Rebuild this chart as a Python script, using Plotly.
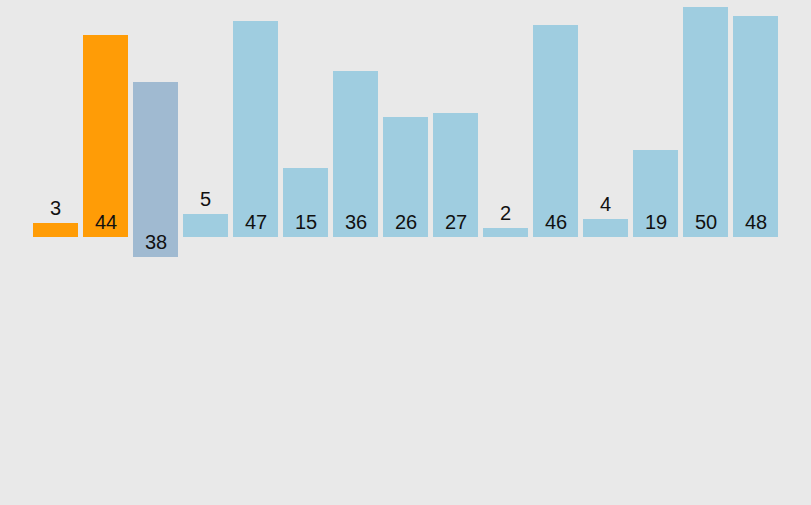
import plotly.graph_objects as go

values = [3, 44, 38, 5, 47, 15, 36, 26, 27, 2, 46, 4, 19, 50, 48]
states = ["sorted", "sorted", "moving", "idle", "idle", "idle", "idle", "idle",
          "idle", "idle", "idle", "idle", "idle", "idle", "idle"]
offsets = [0, 0, -4.35, 0, 0, 0, 0, 0, 0, 0, 0, 0, 0, 0, 0]
labels = [str(v) for v in values]

palette = {"sorted": "#FF9C06", "moving": "#A0BAD1", "idle": "#9FCDE0"}
colors = [palette[s] for s in states]
xs = list(range(len(values)))

fig = go.Figure()
fig.add_trace(go.Bar(
    x=xs, y=values, base=offsets, width=0.9,
    marker=dict(color=colors, line=dict(width=0)),
    hoverinfo="skip",
))

font = dict(family="Liberation Sans, Arial", size=20, color="#111")
annotations = []
for x, v, b, t in zip(xs, values, offsets, labels):
    y = b + v if v <= 5 else b
    annotations.append(dict(x=x, y=y, text=t, showarrow=False,
                            yanchor="bottom", yshift=2, font=font))

fig.update_layout(
    width=811, height=505,
    margin=dict(l=0, r=0, t=0, b=0),
    paper_bgcolor="#E9E9E9", plot_bgcolor="#E9E9E9",
    showlegend=False,
    annotations=annotations,
    xaxis=dict(range=[-1.11, 15.11], visible=False, fixedrange=True),
    yaxis=dict(range=[-58.26, 51.52], visible=False, fixedrange=True),
    bargap=0,
)

fig.write_html("out.html", config={"displayModeBar": False},
               post_script="document.body.style.margin='0';document.body.style.background='#E9E9E9';")
